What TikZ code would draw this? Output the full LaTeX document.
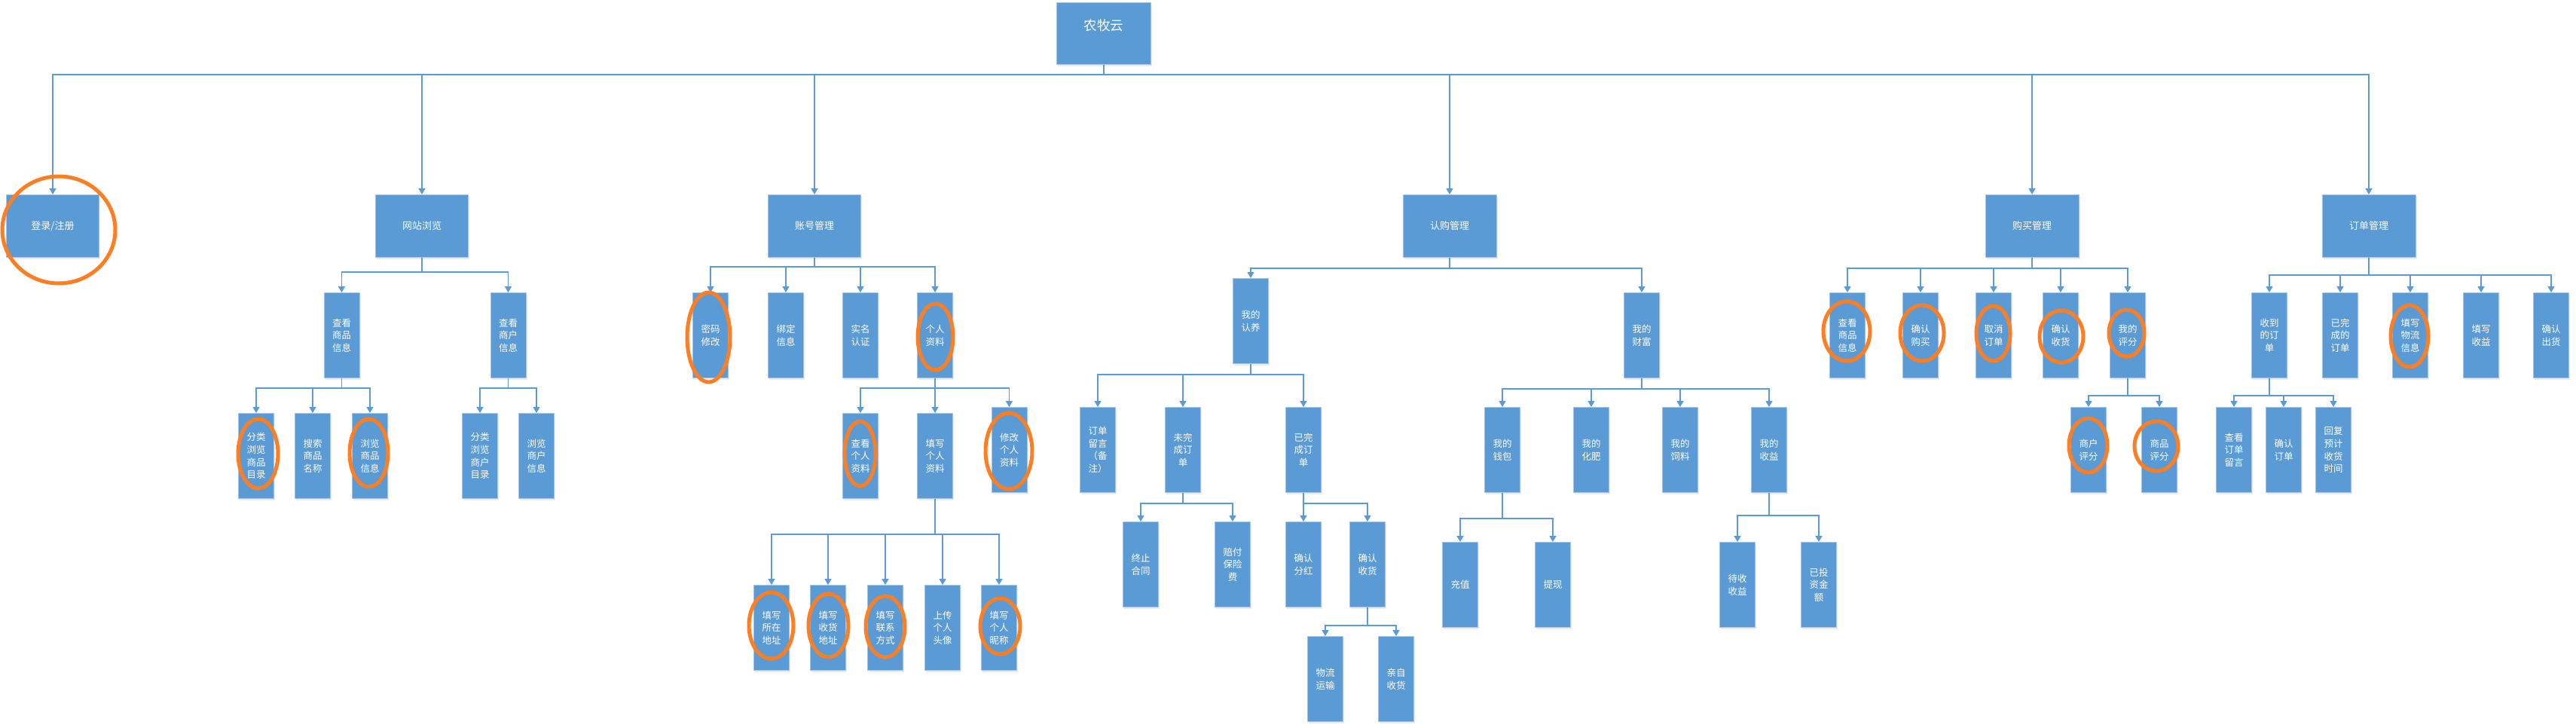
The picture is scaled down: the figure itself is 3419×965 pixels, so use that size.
\documentclass[tikz,border=0pt]{standalone}
\usepackage{fontspec}
\newfontfamily\cjk{Noto Sans CJK SC}
\usetikzlibrary{arrows.meta,calc,shadows}
\definecolor{boxblue}{HTML}{5B9BD5}
\definecolor{boxline}{HTML}{A9C5E6}
\definecolor{ringorange}{HTML}{FD7E23}
\def\ring(#1,#2)(#3:#4){\draw[hilite] (#1,#2) ellipse [x radius=#3*0.2mm, y radius=#4*0.2mm];}
\tikzset{
	box/.style={draw=boxline, line width=0.2mm, fill=boxblue, text=white, inner sep=0pt, anchor=north, align=center,
		drop shadow={shadow xshift=0.3mm, shadow yshift=-0.5mm, opacity=0.15}},
	rootbox/.style={box, minimum width=25mm, minimum height=16.4mm, font=\cjk\fontsize{10pt}{12pt}\selectfont},
	mainbox/.style={box, minimum width=24.8mm, minimum height=16.6mm, font=\cjk\fontsize{7.4pt}{9pt}\selectfont},
	leaf/.style={box, minimum width=9.4mm, minimum height=22.6mm, font=\cjk\fontsize{7.1pt}{9.5pt}\selectfont},
	link/.style={draw=boxblue, line width=0.3mm, -{Triangle[width=1.8mm,length=1.6mm]}},
	hilite/.style={draw=ringorange, line width=1mm}
}

\begin{document}
\begin{tikzpicture}[x=0.02cm, y=-0.02cm]
		%%%%% START %%%%%
		\useasboundingbox (0,0) rectangle (3419,965);
		
		\node[rootbox, text height=2.6mm, text depth=4.4mm] (root) at (1465,3) {农牧云};
		
		\node[mainbox] (login) at (70,258) {登录/注册};
		\node[mainbox] (browse) at (560,258) {网站浏览};
		\node[mainbox] (account) at (1081,258) {账号管理};
		\node[mainbox] (subscribe) at (1924,258) {认购管理};
		\node[mainbox] (purchase) at (2697,258) {购买管理};
		\node[mainbox] (order) at (3144,258) {订单管理};
		\foreach \n in {login,browse,account,subscribe,purchase,order}
			\draw[link] (root.south) -- (root.south |- 0,99) -| (\n.north);
		
		% browse
		\node[leaf] (gInfo) at (453.5,388) {查看\\商品\\信息};
		\node[leaf] (sInfo) at (674.5,388) {查看\\商户\\信息};
		\node[leaf] (gCat) at (340,548) {分类\\浏览\\商品\\目录};
		\node[leaf] (gSearch) at (415,548) {搜索\\商品\\名称};
		\node[leaf] (gView) at (491,548) {浏览\\商品\\信息};
		\node[leaf] (sCat) at (637,548) {分类\\浏览\\商户\\目录};
		\node[leaf] (sView) at (712,548) {浏览\\商户\\信息};
		\foreach \n in {gInfo,sInfo} \draw[link] (browse.south) -- (browse.south |- 0,361) -| (\n.north);
		\foreach \n in {gCat,gSearch,gView} \draw[link] (gInfo.south) -- (gInfo.south |- 0,515) -| (\n.north);
		\foreach \n in {sCat,sView} \draw[link] (sInfo.south) -- (sInfo.south |- 0,515) -| (\n.north);
		
		% account
		\node[leaf] (pwd) at (943,388) {密码\\修改};
		\node[leaf] (bind) at (1043,388) {绑定\\信息};
		\node[leaf] (realname) at (1142,388) {实名\\认证};
		\node[leaf] (profile) at (1241,388) {个人\\资料};
		\node[leaf] (pView) at (1142,548) {查看\\个人\\资料};
		\node[leaf] (pFill) at (1241,548) {填写\\个人\\资料};
		\node[leaf] (pEdit) at (1339.5,540) {修改\\个人\\资料};
		\node[leaf] (fAddr) at (1024,776) {填写\\所在\\地址};
		\node[leaf] (fShip) at (1099,776) {填写\\收货\\地址};
		\node[leaf] (fPhone) at (1175,776) {填写\\联系\\方式};
		\node[leaf] (fAvatar) at (1251,776) {上传\\个人\\头像};
		\node[leaf] (fNick) at (1326,776) {填写\\个人\\昵称};
		\foreach \n in {pwd,bind,realname,profile} \draw[link] (account.south) -- (account.south |- 0,354) -| (\n.north);
		\foreach \n in {pView,pFill,pEdit} \draw[link] (profile.south) -- (profile.south |- 0,515) -| (\n.north);
		\foreach \n in {fAddr,fShip,fPhone,fAvatar,fNick} \draw[link] (pFill.south) -- (pFill.south |- 0,709) -| (\n.north);
		
		% subscribe
		\node[leaf] (adopt) at (1660,369) {我的\\认养};
		\node[leaf] (wealth) at (2179,388) {我的\\财富};
		\node[leaf] (note) at (1457,540) {订单\\留言\\（备\\注）};
		\node[leaf] (undone) at (1570,540) {未完\\成订\\单};
		\node[leaf] (done) at (1730,540) {已完\\成订\\单};
		\node[leaf] (stop) at (1514,692) {终止\\合同};
		\node[leaf] (insure) at (1636,692) {赔付\\保险\\费};
		\node[leaf] (bonus) at (1730,692) {确认\\分红};
		\node[leaf] (receive) at (1815,692) {确认\\收货};
		\node[leaf] (logistic) at (1759,844) {物流\\运输};
		\node[leaf] (selfpick) at (1853,844) {亲自\\收货};
		\node[leaf] (wallet) at (1994,540) {我的\\钱包};
		\node[leaf] (fert) at (2112,540) {我的\\化肥};
		\node[leaf] (feed) at (2230,540) {我的\\饲料};
		\node[leaf] (income) at (2348,540) {我的\\收益};
		\node[leaf] (charge) at (1938,719) {充值};
		\node[leaf] (withdraw) at (2061,719) {提现};
		\node[leaf] (pending) at (2306,719) {待收\\收益};
		\node[leaf] (invested) at (2414,719) {已投\\资金\\额};
		\foreach \n in {adopt,wealth} \draw[link] (subscribe.south) -- (subscribe.south |- 0,356) -| (\n.north);
		\foreach \n in {note,undone,done} \draw[link] (adopt.south) -- (adopt.south |- 0,497) -| (\n.north);
		\foreach \n in {stop,insure} \draw[link] (undone.south) -- (undone.south |- 0,668) -| (\n.north);
		\foreach \n in {bonus,receive} \draw[link] (done.south) -- (done.south |- 0,668) -| (\n.north);
		\foreach \n in {logistic,selfpick} \draw[link] (receive.south) -- (receive.south |- 0,830) -| (\n.north);
		\foreach \n in {wallet,fert,feed,income} \draw[link] (wealth.south) -- (wealth.south |- 0,516) -| (\n.north);
		\foreach \n in {charge,withdraw} \draw[link] (wallet.south) -- (wallet.south |- 0,688) -| (\n.north);
		\foreach \n in {pending,invested} \draw[link] (income.south) -- (income.south |- 0,684) -| (\n.north);
		
		% purchase
		\node[leaf] (bView) at (2452,388) {查看\\商品\\信息};
		\node[leaf] (bConfirm) at (2549,388) {确认\\购买};
		\node[leaf] (bCancel) at (2646,388) {取消\\订单};
		\node[leaf] (bReceive) at (2735,388) {确认\\收货};
		\node[leaf] (bRate) at (2824,388) {我的\\评分};
		\node[leaf] (rShop) at (2772,540) {商户\\评分};
		\node[leaf] (rGoods) at (2866,540) {商品\\评分};
		\foreach \n in {bView,bConfirm,bCancel,bReceive,bRate} \draw[link] (purchase.south) -- (purchase.south |- 0,356) -| (\n.north);
		\foreach \n in {rShop,rGoods} \draw[link] (bRate.south) -- (bRate.south |- 0,525) -| (\n.north);
		
		% order
		\node[leaf] (oRecv) at (3012,388) {收到\\的订\\单};
		\node[leaf] (oDone) at (3106,388) {已完\\成的\\订单};
		\node[leaf] (oShip) at (3199,388) {填写\\物流\\信息};
		\node[leaf] (oIncome) at (3293,388) {填写\\收益};
		\node[leaf] (oOut) at (3386,388) {确认\\出货};
		\node[leaf] (oNote) at (2965,540) {查看\\订单\\留言};
		\node[leaf] (oConfirm) at (3031,540) {确认\\订单};
		\node[leaf] (oReply) at (3097,540) {回复\\预计\\收货\\时间};
		\foreach \n in {oRecv,oDone,oShip,oIncome,oOut} \draw[link] (order.south) -- (order.south |- 0,365) -| (\n.north);
		\foreach \n in {oNote,oConfirm,oReply} \draw[link] (oRecv.south) -- (oRecv.south |- 0,525) -| (\n.north);
		
		% rings
		\ring(78,305)(75:71)
		\ring(342.5,602)(26.5:46)
		\ring(489.5,601)(25.5:45)
		\ring(940.5,447.5)(28.5:59.5)
		\ring(1241.5,447)(23.5:44)
		\ring(1141.5,602)(20.5:43)
		\ring(1339,598.5)(31:50.5)
		\ring(1023.5,830)(29.5:44)
		\ring(1099.5,830)(26.5:42)
		\ring(1175,831.5)(26:40.5)
		\ring(1327.5,831)(26.5:37)
		\ring(2451,439.5)(31:39.5)
		\ring(2551,442)(29:37)
		\ring(2645.5,442.5)(22.5:36.5)
		\ring(2736,446.5)(29:34.5)
		\ring(2822.5,442)(23.5:31)
		\ring(2771.5,591)(25.5:36)
		\ring(2862,592)(29:33)
		\ring(3198,446)(25:41)
		%%%%% END %%%%%
\end{tikzpicture}
\end{document}
